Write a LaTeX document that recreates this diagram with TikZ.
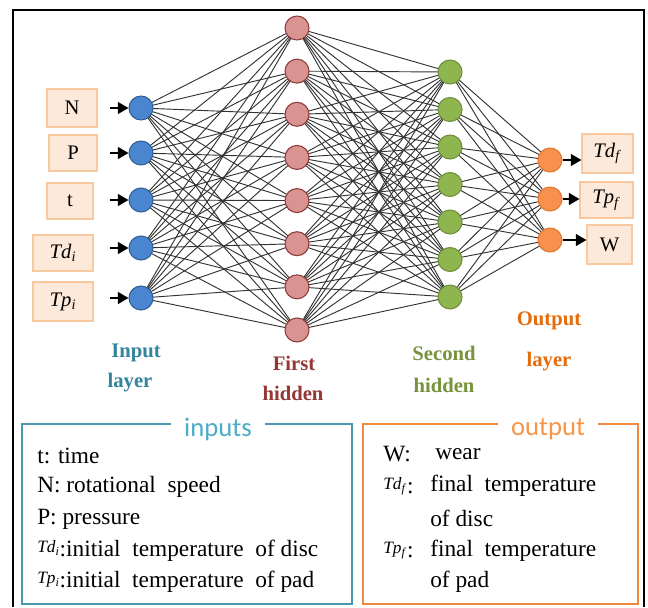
\documentclass[tikz,border=0pt]{standalone}
\usepackage{fontspec}
\setmainfont{Liberation Serif}
\newfontfamily\titlefont{Carlito}
\usetikzlibrary{arrows.meta}
\pgfdeclarelayer{background}
\pgfsetlayers{background,main}
\newcommand{\vsub}[2]{\textit{#1}\textsubscript{\textit{#2}}}
\definecolor{inF}{HTML}{4A86CF}
\definecolor{inD}{HTML}{2F5F97}
\definecolor{h1F}{HTML}{D99391}
\definecolor{h1D}{HTML}{8E3B3A}
\definecolor{h2F}{HTML}{8EB54E}
\definecolor{h2D}{HTML}{6E8F3A}
\definecolor{oF}{HTML}{F7914D}
\definecolor{oD}{HTML}{E0782E}
\definecolor{boxF}{HTML}{FDE9D9}
\definecolor{boxD}{HTML}{F8C8A0}
\definecolor{cIn}{HTML}{31859C}
\definecolor{cH1}{HTML}{953735}
\definecolor{cH2}{HTML}{77933C}
\definecolor{cOut}{HTML}{E46C0A}
\definecolor{legIn}{HTML}{4A98AE}
\definecolor{legInT}{HTML}{4BACC6}
\definecolor{legOut}{HTML}{F08A3E}
\definecolor{legOutT}{HTML}{F79646}
\begin{document}
\begin{tikzpicture}[x=0.75pt,y=-0.75pt,
  neuron/.style={circle, minimum size=18pt, inner sep=0pt, line width=0.8pt},
  inn/.style={neuron, fill=inF, draw=inD},
  hidA/.style={neuron, fill=h1F, draw=h1D},
  hidB/.style={neuron, fill=h2F, draw=h2D},
  outn/.style={neuron, fill=oF, draw=oD},
  edge/.style={draw=black!80, line width=0.7pt},
  varbox/.style={draw=boxD, fill=boxF, line width=0.8pt, inner sep=0pt, font=\fontsize{15.5}{18}\selectfont},
  arr/.style={-{Triangle[length=8pt,width=9pt]}, line width=1.1pt},
  lay/.style={font=\bfseries\fontsize{15.5}{18}\selectfont, inner sep=0pt},
  leg/.style={anchor=west, inner sep=0pt, font=\fontsize{17.5}{20}\selectfont},
  legbox/.style={line width=1.2pt, minimum height=135pt, inner sep=0pt},
  legtitle/.style={fill=white, inner xsep=10pt, inner ysep=1pt, font=\titlefont\fontsize{20}{24}\selectfont}
]
\useasboundingbox (0,0) rectangle (648,607);
\draw[line width=1.5pt] (13,607) -- (13,10) -- (644,10) -- (644,607);

% neurons
\foreach \y [count=\i] in {108,153,200,248,298} \node[inn] (I\i) at (141,\y) {};
\foreach \i in {1,...,8} \node[hidA] (A\i) at (297,{28+(\i-1)*43.14}) {};
\foreach \i in {1,...,7} \node[hidB] (B\i) at (450,{72+(\i-1)*37.5}) {};
\foreach \y [count=\i] in {160,199,240} \node[outn] (O\i) at (550,\y) {};

% connections
\begin{pgfonlayer}{background}
\fill[white] (0,0) rectangle (648,607);
\foreach \i in {1,...,5} \foreach \j in {1,...,8} \draw[edge] (I\i.center) -- (A\j.center);
\foreach \i in {1,...,8} \foreach \j in {1,...,7} \draw[edge] (A\i.center) -- (B\j.center);
\foreach \i in {1,...,7} \foreach \j in {1,...,3} \draw[edge] (B\i.center) -- (O\j.center);
\end{pgfonlayer}

% input boxes
\node[varbox, minimum width=37.5pt, minimum height=28.5pt] (bN) at (72,108) {N};
\node[varbox, minimum width=36pt, minimum height=27pt] (bP) at (73,153) {P};
\node[varbox, minimum width=34.5pt, minimum height=27pt] (bt) at (70,201) {t};
\node[varbox, minimum width=45pt, minimum height=27pt] (bTd) at (63,253) {\vsub{Td}{i}};
\node[varbox, minimum width=45pt, minimum height=29.25pt] (bTp) at (63,301.5) {\vsub{Tp}{i}};
\foreach \y [count=\i] in {108,153,200,248,298} {
  \coordinate (s\i) at (110,\y);
  \draw[arr] (s\i) -- (I\i.west);
}

% output boxes
\node[varbox, minimum width=38.25pt, minimum height=29.25pt] (bTdf) at (607.5,153.5) {\vsub{Td}{f}};
\node[varbox, minimum width=39.75pt, minimum height=27pt] (bTpf) at (606.5,200) {\vsub{Tp}{f}};
\node[varbox, minimum width=33.75pt, minimum height=29.25pt] (bW) at (609.5,244.5) {W};
\draw[arr] (O1.east) -- (O1.east -| bTdf.west);
\draw[arr] (O2.east) -- (O2.east -| bTpf.west);
\draw[arr] (O3.east) -- (O3.east -| bW.west);

% layer labels
\node[lay, text=cIn] (l1a) at (136,353) {Input};
\node[lay, text=cIn] (l1b) at (130,383) {layer};
\node[lay, text=cH1] (l2a) at (294,363) {First};
\node[lay, text=cH1] (l2b) at (293,393) {hidden};
\node[lay, text=cH2] (l3a) at (444,353) {Second};
\node[lay, text=cH2] (l3b) at (444,385) {hidden};
\node[lay, text=cOut] (l4a) at (549,321) {Output};
\node[lay, text=cOut] (l4b) at (549,362) {layer};

% legend: inputs
\node[legbox, draw=legIn, minimum width=247.5pt] (inbox) at (187,514) {};
\node[legtitle, text=legInT] (intitle) at (218,429) {inputs};
\node[leg] (li1) at (37,456) {t: time};
\node[leg] (li2) at (37,487) {N: rotational\ \ speed};
\node[leg] (li3) at (37,519) {P: pressure};
\node[leg] (li4) at (37,551) {\raisebox{3pt}{\fontsize{13}{13}\selectfont\vsub{Td}{i}}:initial\ \ temperature\ \ of disc};
\node[leg] (li5) at (37,582) {\raisebox{3pt}{\fontsize{13}{13}\selectfont\vsub{Tp}{i}}:initial\ \ temperature\ \ of pad};

% legend: output
\node[legbox, draw=legOut, minimum width=206.25pt] (outbox) at (500.5,514) {};
\node[legtitle, text=legOutT] (outtitle) at (548,429) {output};
\node[leg] (lo1) at (383,454) {W:};
\node[leg] (lo1b) at (435,454) {wear};
\node[leg] (lo2) at (383,486) {\raisebox{3pt}{\fontsize{13}{13}\selectfont\vsub{Td}{f}}:};
\node[leg] (lo2b) at (430,486) {final\ \ temperature};
\node[leg] (lo3) at (430,518) {of disc};
\node[leg] (lo4) at (383,551) {\raisebox{3pt}{\fontsize{13}{13}\selectfont\vsub{Tp}{f}}:};
\node[leg] (lo4b) at (430,551) {final\ \ temperature};
\node[leg] (lo5) at (430,582) {of pad};
\end{tikzpicture}
\end{document}
